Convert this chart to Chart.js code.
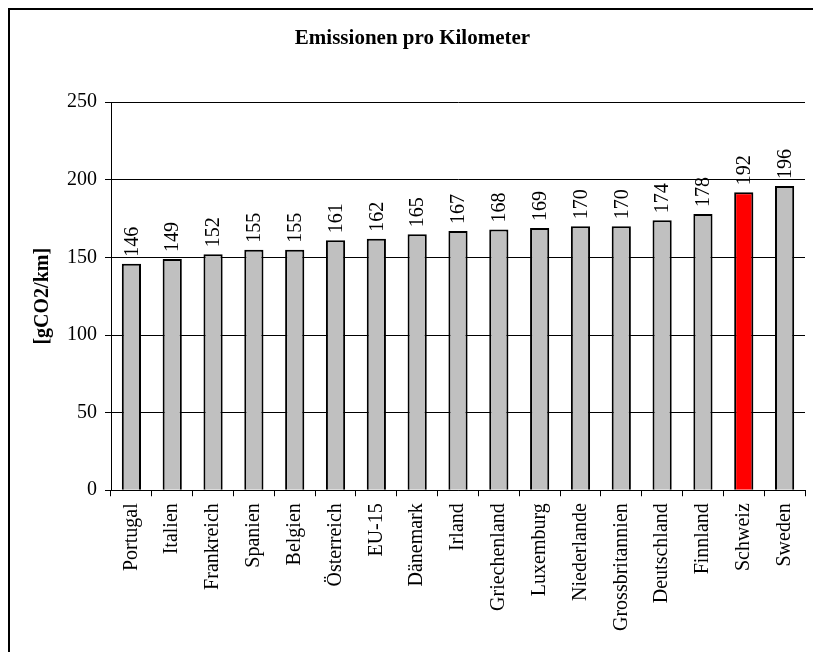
<!DOCTYPE html>
<html>
<head>
<meta charset="utf-8">
<script src="https://cdn.jsdelivr.net/npm/chart.js@4/dist/chart.umd.min.js"></script>
<style>
  html, body { margin:0; padding:0; background:#fff; overflow:hidden; width:813px; height:652px; }
  #wrap { position:absolute; left:0; top:0; width:830px; height:652px; }
  #frame { position:absolute; left:8px; top:8px; width:900px; height:900px; border:2px solid #000; pointer-events:none; }
</style>
</head>
<body>
<div id="wrap"><canvas id="chart" width="830" height="652"></canvas></div>
<div id="frame"></div>
<script>
// values
const countries = ['Portugal','Italien','Frankreich','Spanien','Belgien','Österreich','EU-15','Dänemark','Irland','Griechenland','Luxemburg','Niederlande','Grossbritannien','Deutschland','Finnland','Schweiz','Sweden'];
const emissions = [146,149,152,155,155,161,162,165,167,168,169,170,170,174,178,192,196];
const highlight = 'Schweiz';
const yTicks = [0,50,100,150,200,250];

const serif = "'Liberation Serif','Times New Roman',serif";
const barColors = countries.map(c => c===highlight ? '#FF0000' : '#C0C0C0');

// value labels, turned upright, just over each bar
const valueLabels = {
  id:'valueLabels',
  afterDatasetsDraw(chart){
    const ctx = chart.ctx;
    const meta = chart.getDatasetMeta(0);
    ctx.save();
    ctx.font = '20px ' + serif;
    ctx.fillStyle = '#000';
    meta.data.forEach((bar,i) => {
      ctx.save();
      ctx.translate(bar.x, bar.y - 7);
      ctx.rotate(-Math.PI/2);
      ctx.textAlign = 'left';
      ctx.textBaseline = 'middle';
      ctx.fillText(String(emissions[i]), 0, 1);
      ctx.restore();
    });
    ctx.restore();
  }
};

new Chart(document.getElementById('chart'), {
  type:'bar',
  data:{
    labels:countries,
    datasets:[{
      data:emissions,
      backgroundColor:barColors,
      borderColor:'#000',
      borderWidth:2,
      barPercentage:0.47,
      categoryPercentage:1
    }]
  },
  options:{
    responsive:false,
    animation:false,
    layout:{padding:{left:20, right:25, top:10, bottom:14}},
    plugins:{
      legend:{display:false},
      tooltip:{enabled:false},
      title:{
        display:true,
        text:'Emissionen pro Kilometer',
        color:'#000',
        font:{family:serif, size:21, weight:'bold', lineHeight:1.2},
        padding:{top:16, bottom:51}
      }
    },
    scales:{
      x:{
        grid:{display:true, drawOnChartArea:false, drawTicks:true, tickLength:6, color:'#000', offset:true},
        border:{display:true, color:'#000', width:1},
        ticks:{color:'#000', font:{family:serif, size:20}, maxRotation:90, minRotation:90, padding:7, autoSkip:false}
      },
      y:{
        min:0, max:250,
        afterBuildTicks(axis){ axis.ticks = yTicks.map(v => ({value:v})); },
        grid:{color:'#000', lineWidth:1, tickLength:6},
        border:{display:true, color:'#000', width:1},
        ticks:{color:'#000', font:{family:serif, size:20}, padding:8},
        title:{display:true, text:'[gCO2/km]', color:'#000', font:{family:serif, size:20, weight:'bold'}, padding:{top:11, bottom:4}}
      }
    }
  },
  plugins:[valueLabels]
});
</script>
</body>
</html>
